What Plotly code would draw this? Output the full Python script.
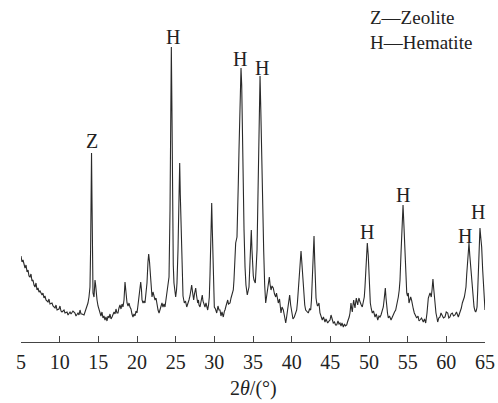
import plotly.graph_objects as go

two_theta = [
    5.00, 5.13, 5.26, 5.39, 5.52, 5.65, 5.78, 5.91, 6.03, 6.16, 6.29, 6.42, 6.55, 6.68, 6.81, 6.94,
    7.07, 7.20, 7.33, 7.46, 7.72, 7.84, 7.97, 8.10, 8.23, 8.49, 8.62, 8.75, 9.01, 9.14, 9.40, 9.53,
    9.66, 9.91, 10.04, 10.17, 10.30, 10.56, 10.69, 10.95, 11.08, 11.34, 11.47, 11.72, 11.98, 12.11,
    12.37, 12.50, 12.63, 12.76, 12.89, 13.15, 13.28, 13.41, 13.53, 13.66, 13.79, 13.92, 14.00, 14.05,
    14.12, 14.18, 14.25, 14.31, 14.44, 14.50, 14.57, 14.65, 14.70, 14.83, 14.96, 15.09, 15.22, 15.34,
    15.47, 15.60, 15.73, 15.86, 15.99, 16.12, 16.25, 16.38, 16.51, 16.64, 16.77, 16.90, 17.03, 17.16,
    17.28, 17.41, 17.54, 17.67, 17.80, 17.93, 18.06, 18.19, 18.32, 18.45, 18.58, 18.71, 18.84, 18.97,
    19.09, 19.22, 19.35, 19.48, 19.61, 19.74, 19.87, 20.00, 20.13, 20.26, 20.39, 20.48, 20.58, 20.65,
    20.78, 20.91, 21.03, 21.16, 21.29, 21.42, 21.51, 21.62, 21.68, 21.81, 21.94, 22.07, 22.20, 22.33,
    22.46, 22.59, 22.72, 22.85, 22.97, 23.10, 23.23, 23.36, 23.49, 23.62, 23.75, 23.88, 24.01, 24.14,
    24.27, 24.33, 24.44, 24.53, 24.62, 24.69, 24.78, 24.91, 25.00, 25.11, 25.17, 25.30, 25.37, 25.47,
    25.52, 25.60, 25.69, 25.78, 25.86, 25.95, 26.12, 26.27, 26.43, 26.60, 26.72, 26.85, 26.98, 27.07,
    27.18, 27.33, 27.43, 27.59, 27.69, 27.85, 27.95, 28.02, 28.15, 28.28, 28.44, 28.53, 28.66, 28.79,
    28.92, 29.05, 29.14, 29.25, 29.35, 29.44, 29.53, 29.60, 29.66, 29.74, 29.83, 29.92, 30.00, 30.15,
    30.31, 30.47, 30.60, 30.73, 30.86, 30.99, 31.16, 31.31, 31.38, 31.51, 31.64, 31.73, 31.83, 32.03,
    32.16, 32.28, 32.45, 32.54, 32.67, 32.76, 32.93, 33.02, 33.10, 33.19, 33.28, 33.36, 33.45, 33.54,
    33.62, 33.71, 33.84, 33.97, 34.09, 34.26, 34.38, 34.48, 34.57, 34.65, 34.78, 34.87, 34.96, 35.04,
    35.13, 35.22, 35.30, 35.39, 35.52, 35.61, 35.69, 35.78, 35.91, 36.01, 36.13, 36.23, 36.38, 36.51,
    36.64, 36.75, 36.90, 37.00, 37.11, 37.20, 37.33, 37.46, 37.62, 37.78, 37.94, 38.04, 38.17, 38.27,
    38.43, 38.62, 38.75, 38.92, 39.07, 39.23, 39.33, 39.46, 39.56, 39.74, 39.87, 40.00, 40.17, 40.34,
    40.50, 40.65, 40.75, 40.86, 40.95, 41.04, 41.21, 41.31, 41.38, 41.47, 41.56, 41.69, 41.81, 41.98,
    42.15, 42.31, 42.46, 42.56, 42.67, 42.78, 42.89, 42.98, 43.06, 43.15, 43.24, 43.34, 43.44, 43.53,
    43.66, 43.79, 43.96, 44.11, 44.31, 44.44, 44.66, 44.83, 44.96, 45.09, 45.18, 45.28, 45.38, 45.54,
    45.67, 45.82, 45.99, 46.12, 46.25, 46.38, 46.51, 46.68, 46.83, 46.96, 47.12, 47.22, 47.32, 47.44,
    47.54, 47.67, 47.75, 47.84, 47.93, 48.02, 48.11, 48.19, 48.28, 48.36, 48.45, 48.54, 48.63, 48.71,
    48.80, 48.87, 49.00, 49.13, 49.26, 49.39, 49.48, 49.57, 49.68, 49.78, 49.90, 50.00, 50.09, 50.17,
    50.30, 50.43, 50.58, 50.78, 50.94, 51.13, 51.29, 51.42, 51.55, 51.64, 51.75, 51.85, 51.98, 52.11,
    52.20, 52.29, 52.39, 52.50, 52.65, 52.85, 52.98, 53.14, 53.30, 53.45, 53.62, 53.79, 53.91, 54.01,
    54.14, 54.27, 54.40, 54.53, 54.66, 54.76, 54.88, 54.98, 55.08, 55.17, 55.30, 55.39, 55.50, 55.60,
    55.73, 55.86, 56.01, 56.17, 56.34, 56.47, 56.59, 56.79, 57.02, 57.18, 57.33, 57.44, 57.50, 57.67,
    57.76, 57.89, 57.98, 58.05, 58.15, 58.27, 58.36, 58.44, 58.56, 58.66, 58.79, 58.88, 59.02, 59.18,
    59.31, 59.48, 59.63, 59.83, 59.99, 60.18, 60.32, 60.47, 60.60, 60.77, 60.93, 61.12, 61.31, 61.55,
    61.68, 61.81, 61.94, 62.07, 62.20, 62.33, 62.44, 62.54, 62.63, 62.71, 62.83, 62.93, 63.03, 63.15,
    63.25, 63.36, 63.47, 63.58, 63.71, 63.80, 63.89, 63.97, 64.06, 64.14, 64.25, 64.35, 64.46, 64.57,
    64.70, 64.83, 64.93, 65.00,
]

intensity = [
    86, 80, 82, 76, 74, 77, 70, 72, 66, 65, 68, 61, 62, 57, 55, 59,
    52, 54, 50, 51, 47, 49, 44, 46, 42, 40, 43, 38, 39, 36, 34, 37,
    32, 33, 36, 31, 30, 32, 29, 30, 27, 30, 28, 31, 29, 26,
    29, 27, 32, 28, 28, 27, 30, 32, 34, 39, 45, 55, 92, 135,
    189, 142, 82, 49, 45, 52, 62, 57, 50, 42, 36, 32, 29, 26,
    30, 24, 26, 22, 25, 21, 26, 24, 28, 23, 25, 27, 30, 28,
    33, 29, 29, 34, 37, 33, 38, 35, 42, 60, 44, 39, 36, 39,
    35, 33, 28, 25, 28, 26, 31, 29, 37, 45, 57, 60, 52, 42,
    39, 41, 39, 47, 59, 80, 88, 80, 72, 57, 45, 50, 47, 42,
    44, 35, 32, 29, 33, 36, 39, 35, 38, 35, 42, 49, 55, 65,
    132, 222, 295, 222, 112, 77, 59, 50, 45, 52, 59, 92, 132, 172,
    179, 147, 112, 77, 52, 46, 39, 41, 35, 38, 42, 46, 53, 57,
    50, 42, 48, 54, 47, 39, 42, 37, 35, 41, 47, 41, 37, 35,
    39, 34, 32, 37, 45, 67, 95, 127, 139, 112, 79, 52, 35, 33,
    29, 36, 32, 32, 26, 30, 25, 31, 32, 36, 40, 42, 38, 39,
    44, 48, 52, 62, 82, 99, 105, 127, 159, 192, 232, 262, 274, 257,
    212, 159, 112, 75, 57, 47, 50, 55, 72, 92, 112, 92, 75, 66,
    62, 60, 59, 72, 92, 132, 175, 222, 266, 232, 175, 132, 92, 57,
    39, 45, 52, 60, 65, 58, 52, 56, 54, 48, 45, 49, 42, 39,
    43, 29, 35, 32, 26, 19, 24, 32, 35, 47, 37, 29, 23, 25,
    29, 32, 40, 49, 62, 72, 91, 80, 72, 57, 45, 37, 32, 30,
    29, 33, 32, 42, 59, 87, 106, 82, 59, 44, 39, 36, 37, 39,
    29, 26, 22, 25, 20, 23, 19, 21, 22, 27, 25, 21, 19, 20,
    17, 17, 21, 18, 19, 16, 19, 15, 18, 16, 17, 20, 22, 25,
    29, 39, 34, 30, 37, 42, 37, 34, 40, 44, 40, 37, 42, 44,
    41, 39, 37, 35, 39, 45, 55, 69, 87, 99, 87, 69, 52, 39,
    33, 29, 31, 25, 28, 22, 26, 25, 27, 29, 31, 35, 44, 54,
    44, 35, 29, 24, 26, 22, 25, 27, 30, 32, 38, 45, 52, 62,
    89, 114, 137, 114, 89, 67, 49, 46, 49, 39, 42, 45, 42, 37,
    33, 29, 26, 24, 26, 21, 22, 24, 20, 23, 19, 24, 29, 44,
    47, 49, 47, 45, 52, 63, 54, 45, 37, 29, 24, 20, 24, 25,
    29, 27, 24, 25, 30, 29, 24, 25, 28, 29, 26, 27, 30, 25,
    28, 29, 34, 39, 42, 45, 50, 55, 67, 79, 92, 99, 87, 75,
    60, 49, 41, 35, 31, 30, 32, 35, 52, 69, 97, 114, 104, 95,
    72, 52, 40, 32,
]

peak_labels = ["Z", "H", "H", "H", "H", "H", "H", "H"]
peak_x = [14.20, 24.62, 33.32, 36.13, 49.70, 54.36, 62.46, 64.06]
peak_y = [201, 305, 283, 274, 110, 147, 106, 130]

legend_lines = ["Z—Zeolite", "H—Hematite"]
legend_y = [325, 300]

x_ticks = [5, 10, 15, 20, 25, 30, 35, 40, 45, 50, 55, 60, 65]

FONT = "Liberation Serif, Times New Roman, serif"

fig = go.Figure()
fig.add_trace(go.Scatter(
    x=two_theta, y=intensity, mode="lines",
    line=dict(color="#2a2a2a", width=1.1),
    showlegend=False, hoverinfo="skip",
))

annotations = []
for lab, px, py in zip(peak_labels, peak_x, peak_y):
    annotations.append(dict(
        x=px, y=py, xref="x", yref="y", text=lab, showarrow=False,
        font=dict(family=FONT, size=20, color="#222222"),
        xanchor="center", yanchor="middle",
    ))
for txt, ly in zip(legend_lines, legend_y):
    annotations.append(dict(
        x=49.85, y=ly, xref="x", yref="y", text=txt, showarrow=False,
        font=dict(family=FONT, size=19, color="#222222"),
        xanchor="left", yanchor="middle",
    ))
annotations.append(dict(
    x=35, y=-0.135, xref="x", yref="paper", text="2<i>θ</i>/(°)", showarrow=False,
    font=dict(family=FONT, size=20, color="#222222"),
    xanchor="center", yanchor="middle",
))

fig.update_layout(
    width=498, height=403,
    margin=dict(l=21, r=13, t=0, b=61),
    paper_bgcolor="white", plot_bgcolor="white",
    annotations=annotations,
    xaxis=dict(
        range=[5, 65], tickvals=x_ticks, ticktext=[str(t) for t in x_ticks],
        showgrid=False, zeroline=False, showline=True, linecolor="#444444", linewidth=1,
        ticks="inside", ticklen=6, tickcolor="#444444", tickwidth=1,
        tickfont=dict(family=FONT, size=20, color="#222222"),
        ticklabelstandoff=2,
    ),
    yaxis=dict(range=[0, 342], visible=False, showgrid=False, zeroline=False),
)

fig.write_html("out.html")
